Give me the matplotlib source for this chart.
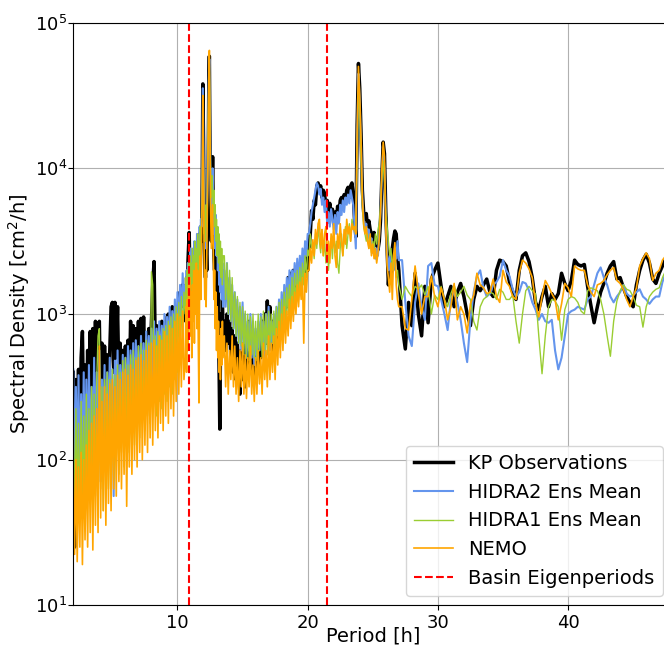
import numpy as np
import matplotlib
matplotlib.use('Agg')
import matplotlib.pyplot as plt

# period grid [h]: finer steps where the spectrum is busy
period_h = np.concatenate([
    np.arange(2.0, 10.55, 0.1),
    np.arange(10.6, 13.525, 0.05),
    np.arange(13.6, 20.05, 0.1),
    np.arange(20.1, 27.05, 0.1),
    np.arange(27.25, 47.6, 0.25),
])

# log10 spectral density [cm^2/h]
kp_obs_log = [
    2.60, 1.40, 2.55, 2.15, 2.62, 2.05, 2.70, 2.88, 2.25, 2.65,
    2.20, 2.75, 2.30, 2.88, 2.35, 2.90, 2.40, 2.95, 2.45, 2.92,
    2.95, 2.40, 2.80, 2.35, 2.78, 2.45, 2.72, 2.40, 2.75, 3.05,
    3.08, 2.60, 3.08, 2.70, 3.05, 2.55, 2.80, 2.45, 2.75, 2.50,
    2.78, 2.45, 2.82, 2.50, 2.95, 2.60, 2.92, 2.55, 2.90, 2.65,
    2.95, 2.60, 2.97, 2.70, 2.98, 2.65, 2.85, 2.60, 2.90, 2.70,
    2.95, 3.20, 3.36, 2.75, 2.92, 2.65, 2.88, 2.70, 2.95, 2.75,
    2.92, 2.70, 2.98, 3.00, 2.75, 2.95, 3.05, 2.85, 3.00, 2.90,
    3.05, 2.95, 3.15, 3.05, 3.20, 3.10,
    # 10.6 - 13.5
    3.15, 2.95, 3.25, 3.05, 3.35, 3.45, 3.56, 3.30, 3.40, 3.20,
    3.38, 3.15, 3.30, 3.05, 3.35, 3.10, 3.40, 3.20, 3.45, 3.25,
    3.50, 3.20, 3.55, 3.30, 3.60, 3.50, 3.90, 4.58, 4.20, 3.60,
    3.35, 3.25, 3.45, 3.30, 3.60, 3.90, 4.50, 4.77, 4.10, 3.60,
    3.50, 3.80, 4.08, 3.70, 3.40, 3.30, 3.45, 3.20, 3.30, 3.00,
    3.20, 2.90, 2.60, 2.21, 2.70, 3.00, 2.85, 3.10, 2.90,
    # 13.6 - 20.0
    2.95, 2.75, 3.00, 2.80, 2.95, 2.70, 2.90, 2.60, 2.85, 2.55,
    2.80, 2.60, 2.45, 2.75, 2.55, 2.80, 2.50, 2.85, 2.60, 2.95,
    2.70, 2.85, 2.60, 2.80, 2.55, 2.85, 2.65, 2.90, 2.70, 2.95,
    2.75, 3.00, 2.80, 3.09, 2.85, 3.05, 2.80, 2.95, 2.70, 2.90,
    2.75, 3.00, 2.85, 3.05, 2.90, 3.10, 2.95, 3.15, 3.05, 3.25,
    3.10, 3.28, 3.15, 3.30, 3.20, 3.28, 3.15, 3.30, 3.20, 3.35,
    3.25, 3.38, 3.28, 3.40, 3.30,
    # 20.1 - 27.0
    3.45, 3.55, 3.71, 3.65, 3.78, 3.75, 3.88, 3.90, 3.85, 3.88,
    3.80, 3.85, 3.83, 3.72, 3.78, 3.70, 3.76, 3.67, 3.72, 3.62,
    3.70, 3.64, 3.74, 3.68, 3.78, 3.80, 3.72, 3.82, 3.78, 3.85,
    3.87, 3.80, 3.88, 3.90, 3.82, 3.65, 3.53, 4.30, 4.72, 4.55,
    4.24, 3.85, 3.70, 3.65, 3.69, 3.60, 3.64, 3.58, 3.55, 3.50,
    3.56, 3.47, 3.52, 3.44, 3.50, 3.65, 3.95, 4.18, 4.10, 3.70,
    3.44, 3.20, 3.35, 3.28, 3.45, 3.52, 3.57, 3.55, 3.40, 3.30,
    # 27.25 - 47.5
    2.92, 2.76, 3.08, 2.92, 3.28, 3.00, 2.85, 3.19,
    2.94, 3.24, 3.30, 3.35, 3.19, 3.05, 3.12, 3.19,
    3.05, 3.15, 3.21, 3.12, 3.00, 2.92, 3.10, 3.19,
    3.16, 3.20, 3.24, 3.15, 3.12, 3.30, 3.37, 3.36,
    3.33, 3.22, 3.15, 3.10, 3.30, 3.40, 3.42, 3.36,
    3.25, 3.08, 3.03, 3.12, 3.19, 3.05, 3.14, 3.10,
    3.14, 3.28, 3.21, 3.16, 3.23, 3.37, 3.34, 3.33,
    3.34, 3.19, 3.06, 2.94, 3.05, 3.15, 3.21, 3.28,
    3.33, 3.36, 3.24, 3.25, 3.18, 3.12, 3.08, 3.05,
    3.20, 3.30, 3.37, 3.41, 3.35, 3.24, 3.21, 3.28,
    3.33, 3.38,
]

hidra2_log = [
    2.62, 1.60, 2.50, 1.80, 2.58, 1.70, 2.45, 1.90, 2.60, 1.75,
    2.55, 1.85, 2.65, 1.80, 2.50, 2.00, 2.70, 1.90, 2.60, 2.05,
    2.75, 1.85, 2.55, 2.10, 2.65, 1.95, 2.60, 2.15, 2.70, 2.05,
    2.62, 1.75, 2.68, 2.20, 2.75, 2.10, 2.65, 2.25, 2.72, 2.15,
    2.70, 2.30, 2.78, 2.20, 2.75, 2.35, 2.80, 2.25, 2.82, 2.40,
    2.78, 2.35, 2.85, 2.45, 2.80, 2.40, 2.88, 2.50, 2.85, 2.45,
    2.90, 2.55, 2.95, 2.50, 2.90, 2.60, 2.95, 2.55, 2.92, 2.65,
    3.00, 2.60, 2.98, 2.70, 3.05, 2.65, 3.02, 2.75, 3.10, 2.80,
    3.15, 2.85, 3.20, 2.95, 3.28, 3.05,
    # 10.6 - 13.5
    3.20, 3.00, 3.30, 3.10, 3.35, 3.15, 3.40, 3.20, 3.45, 3.25,
    3.40, 3.15, 3.45, 3.20, 3.50, 3.25, 3.45, 3.30, 3.55, 3.30,
    3.50, 3.35, 3.60, 3.40, 3.65, 3.60, 3.95, 4.55, 4.15, 3.70,
    3.50, 3.60, 3.45, 3.65, 3.85, 4.20, 4.60, 4.75, 4.20, 3.80,
    3.65, 3.85, 4.00, 3.75, 3.55, 3.65, 3.45, 3.68, 3.40, 3.55,
    3.30, 3.50, 3.20, 3.45, 3.15, 3.40, 3.10, 3.35, 3.05,
    # 13.6 - 20.0
    3.30, 3.05, 3.35, 3.00, 3.25, 2.95, 3.20, 2.90, 3.15, 2.85,
    3.10, 2.80, 3.05, 2.75, 3.08, 2.80, 3.00, 2.70, 2.95, 2.75,
    3.00, 2.70, 2.95, 2.65, 2.90, 2.70, 2.95, 2.75, 3.00, 2.80,
    2.95, 2.70, 3.00, 2.80, 3.05, 2.75, 2.95, 2.80, 3.00, 2.85,
    3.05, 2.90, 3.10, 2.90, 3.15, 2.95, 3.20, 3.00, 3.25, 3.05,
    3.30, 3.10, 3.30, 3.15, 3.35, 3.20, 3.38, 3.20, 3.40, 3.25,
    3.45, 3.30, 3.50, 3.40, 3.55,
    # 20.1 - 27.0
    3.55, 3.62, 3.70, 3.75, 3.80, 3.85, 3.90, 3.88, 3.82, 3.86,
    3.75, 3.80, 3.70, 3.78, 3.62, 3.70, 3.60, 3.72, 3.65, 3.58,
    3.68, 3.55, 3.70, 3.62, 3.75, 3.68, 3.78, 3.70, 3.80, 3.75,
    3.82, 3.76, 3.85, 3.80, 3.75, 3.60, 3.45, 4.20, 4.65, 4.45,
    4.15, 3.80, 3.65, 3.58, 3.62, 3.52, 3.58, 3.48, 3.52, 3.42,
    3.48, 3.38, 3.45, 3.40, 3.55, 3.70, 3.95, 4.12, 4.00, 3.65,
    3.40, 3.30, 3.40, 3.25, 3.35, 3.30, 3.45, 3.38, 3.50, 3.37,
    # 27.25 - 47.5
    3.37, 3.08, 2.85, 2.78, 3.08, 3.21, 3.05, 2.96,
    3.33, 3.35, 3.20, 3.19, 3.10, 3.00, 2.89, 3.10,
    3.16, 3.08, 2.96, 2.80, 2.67, 2.96, 3.15, 3.26,
    3.30, 3.18, 3.12, 3.14, 3.20, 3.22, 3.26, 3.37,
    3.30, 3.26, 3.17, 3.12, 3.15, 3.22, 3.21, 3.16,
    3.08, 3.03, 2.96, 3.00, 2.95, 2.94, 2.96, 2.75,
    2.62, 2.70, 2.85, 3.00, 3.02, 3.03, 3.05, 3.04,
    3.03, 3.10, 3.12, 3.20, 3.28, 3.32, 3.25, 3.20,
    3.12, 3.08, 3.12, 3.15, 3.20, 3.14, 3.12, 3.13,
    3.15, 3.17, 3.12, 3.10, 3.07, 3.10, 3.12, 3.12,
    3.22, 3.28,
]

hidra1_log = [
    2.30, 1.55, 2.35, 1.70, 2.25, 1.60, 2.40, 1.75, 2.30, 1.65,
    2.45, 1.80, 2.35, 1.70, 2.50, 1.85, 2.45, 1.75, 2.55, 2.85,
    2.90, 1.80, 2.50, 1.65, 2.55, 1.90, 2.60, 1.80, 2.55, 1.95,
    2.62, 1.85, 2.58, 2.00, 2.65, 1.90, 2.60, 2.05, 2.68, 1.95,
    2.70, 2.10, 2.65, 2.05, 2.72, 2.15, 2.75, 2.10, 2.70, 2.20,
    2.78, 2.15, 2.80, 2.25, 2.75, 2.20, 2.82, 2.30, 2.80, 2.25,
    3.29, 3.20, 2.40, 2.85, 2.30, 2.88, 2.40, 2.85, 2.35, 2.90,
    2.45, 2.92, 2.40, 2.95, 2.50, 2.98, 2.45, 3.00, 2.55, 3.05,
    2.60, 3.08, 2.70, 3.12, 2.80, 3.15,
    # 10.6 - 13.5
    3.00, 3.25, 2.90, 3.30, 3.00, 3.35, 3.10, 3.40, 3.05, 3.35,
    3.10, 3.45, 3.15, 3.40, 3.10, 3.50, 3.20, 3.45, 3.15, 3.55,
    3.25, 3.50, 3.30, 3.60, 3.40, 3.70, 3.80, 4.30, 3.90, 3.55,
    3.70, 3.50, 3.75, 3.60, 3.90, 4.20, 4.55, 4.70, 4.30, 3.95,
    3.80, 3.95, 3.85, 3.70, 3.85, 3.60, 3.75, 3.50, 3.65, 3.40,
    3.60, 3.35, 3.55, 3.30, 3.50, 3.25, 3.45, 3.20, 3.40,
    # 13.6 - 20.0
    3.40, 3.10, 3.35, 3.00, 3.30, 2.95, 3.25, 2.90, 3.15, 2.85,
    3.12, 2.80, 3.08, 2.78, 3.05, 2.72, 3.02, 2.70, 3.00, 2.68,
    2.98, 2.72, 3.00, 2.70, 2.95, 2.68, 3.00, 2.75, 2.98, 2.70,
    3.02, 2.75, 3.00, 2.72, 3.02, 2.78, 3.00, 2.80, 3.02, 2.75,
    3.05, 2.85, 3.08, 2.85, 3.10, 2.90, 3.15, 2.95, 3.18, 3.00,
    3.20, 3.00, 3.25, 3.05, 3.28, 3.05, 3.30, 3.10, 3.32, 3.15,
    3.35, 3.20, 3.40, 3.25, 3.44,
    # 20.1 - 27.0
    3.40, 3.55, 3.45, 3.49, 3.38, 3.55, 3.45, 3.60, 3.50, 3.42,
    3.58, 3.40, 3.50, 3.35, 3.48, 3.30, 3.45, 3.52, 3.38, 3.55,
    3.42, 3.50, 3.35, 3.28, 3.45, 3.55, 3.40, 3.50, 3.60, 3.45,
    3.55, 3.62, 3.50, 3.65, 3.60, 3.58, 3.55, 4.10, 4.55, 4.40,
    4.05, 3.75, 3.60, 3.55, 3.50, 3.55, 3.45, 3.50, 3.42, 3.50,
    3.45, 3.55, 3.48, 3.58, 3.62, 3.75, 3.95, 4.05, 3.90, 3.70,
    3.60, 3.50, 3.40, 3.45, 3.30, 3.42, 3.35, 3.25, 3.30, 3.20,
    # 27.25 - 47.5
    3.10, 3.19, 3.15, 3.12, 3.19, 3.17, 3.20, 3.13,
    3.19, 3.00, 3.13, 3.10, 3.19, 3.10, 3.05, 3.14,
    3.20, 3.12, 3.15, 3.19, 3.13, 3.10, 2.95, 2.89,
    3.05, 3.10, 3.12, 3.15, 3.14, 3.10, 3.17, 3.15,
    3.10, 3.10, 3.13, 2.95, 2.80, 3.00, 3.16, 3.19,
    3.16, 3.14, 2.85, 2.59, 2.85, 3.05, 3.10, 3.09,
    3.05, 2.82, 3.03, 3.10, 3.12, 3.11, 3.08, 3.02,
    3.00, 3.16, 3.18, 3.17, 3.16, 3.10, 3.00, 2.85,
    2.71, 2.95, 3.09, 3.16, 3.20, 3.17, 3.16, 3.12,
    3.06, 3.05, 2.91, 3.05, 3.12, 3.15, 3.17, 3.18,
    3.25, 3.30,
]

nemo_log = [
    1.90, 1.35, 2.00, 1.30, 1.95, 1.40, 2.05, 1.28, 2.00, 1.45,
    2.10, 1.40, 2.20, 1.50, 2.25, 1.38, 2.30, 1.55, 2.35, 1.50,
    2.78, 1.60, 2.40, 1.65, 2.50, 1.55, 2.45, 1.70, 2.52, 1.65,
    2.55, 1.80, 2.50, 1.75, 2.58, 1.85, 2.55, 1.80, 2.60, 1.90,
    2.62, 1.68, 2.58, 1.95, 2.65, 1.90, 2.62, 2.00, 2.68, 1.95,
    2.70, 2.05, 2.72, 2.00, 2.68, 2.10, 2.75, 2.05, 2.78, 2.15,
    2.80, 2.10, 2.82, 2.20, 2.78, 2.15, 2.85, 2.25, 2.82, 2.20,
    2.88, 2.30, 2.85, 2.25, 2.92, 2.35, 2.90, 2.30, 2.95, 2.40,
    3.00, 2.45, 2.98, 2.50, 3.02, 2.55,
    # 10.6 - 13.5
    2.70, 3.05, 2.60, 3.10, 2.75, 3.20, 2.90, 3.25, 2.85, 3.15,
    2.70, 3.20, 2.95, 3.30, 2.80, 3.25, 3.00, 3.35, 2.90, 3.30,
    2.80, 2.39, 3.20, 3.40, 3.10, 3.50, 3.80, 4.50, 3.90, 3.40,
    3.10, 3.30, 3.05, 3.40, 3.70, 4.10, 4.60, 4.81, 4.20, 3.70,
    3.45, 3.60, 3.75, 3.40, 3.10, 3.30, 2.90, 3.15, 2.75, 3.05,
    2.70, 2.95, 2.60, 2.85, 2.55, 2.90, 2.65, 2.95, 2.70,
    # 13.6 - 20.0
    2.85, 2.50, 2.80, 2.45, 2.75, 2.55, 2.85, 2.50, 2.78, 2.45,
    2.70, 2.40, 2.75, 2.50, 2.80, 2.45, 2.72, 2.42, 2.70, 2.50,
    2.78, 2.45, 2.65, 2.40, 2.70, 2.45, 2.75, 2.52, 2.70, 2.45,
    2.80, 2.55, 2.75, 2.50, 2.85, 2.55, 2.80, 2.60, 2.85, 2.55,
    2.90, 2.65, 2.95, 2.70, 3.00, 2.75, 3.05, 2.80, 3.02, 2.85,
    3.10, 2.90, 3.12, 2.95, 3.15, 3.00, 3.20, 3.05, 3.22, 3.10,
    3.25, 2.80, 3.28, 3.15, 3.30,
    # 20.1 - 27.0
    3.30, 3.45, 3.35, 3.51, 3.40, 3.58, 3.48, 3.62, 3.65, 3.45,
    3.58, 3.40, 3.55, 3.60, 3.38, 3.50, 3.35, 3.55, 3.45, 3.62,
    3.40, 3.32, 3.55, 3.45, 3.62, 3.50, 3.40, 3.58, 3.48, 3.65,
    3.55, 3.60, 3.50, 3.62, 3.58, 3.60, 3.55, 4.25, 4.70, 4.50,
    4.20, 3.80, 3.62, 3.55, 3.60, 3.50, 3.45, 3.55, 3.40, 3.48,
    3.38, 3.45, 3.35, 3.42, 3.52, 3.70, 4.00, 4.18, 4.08, 3.60,
    3.33, 3.25, 3.15, 3.35, 3.10, 3.40, 3.49, 3.20, 3.10, 3.05,
    # 27.25 - 47.5
    3.05, 2.90, 2.89, 3.10, 3.33, 3.15, 3.00, 3.12,
    3.12, 3.26, 3.12, 3.05, 3.18, 3.10, 2.96, 3.05,
    3.21, 2.96, 3.05, 3.00, 2.87, 3.07, 3.13, 3.28,
    3.20, 3.18, 3.14, 3.15, 3.24, 3.12, 3.08, 3.30,
    3.22, 3.19, 3.12, 3.10, 3.28, 3.37, 3.35, 3.31,
    3.25, 3.07, 2.98, 3.12, 3.23, 3.19, 3.14, 3.10,
    2.96, 3.07, 3.21, 3.18, 3.12, 3.33, 3.31, 3.30,
    3.30, 3.20, 3.15, 3.12, 3.20, 3.21, 3.23, 3.27,
    3.30, 3.32, 3.23, 3.21, 3.17, 3.10, 3.05, 3.12,
    3.18, 3.33, 3.38, 3.42, 3.38, 3.23, 3.28, 3.30,
    3.37, 3.40,
]

eigenperiods_h = [10.9, 21.5]

series = [
    ('KP Observations', kp_obs_log, 'black', 2.5),
    ('HIDRA2 Ens Mean', hidra2_log, 'cornflowerblue', 1.5),
    ('HIDRA1 Ens Mean', hidra1_log, 'yellowgreen', 1.0),
    ('NEMO', nemo_log, 'orange', 1.2),
]

plt.rcParams['font.size'] = 14

fig = plt.figure(figsize=(6.64, 6.49), dpi=100)
ax = fig.add_axes([0.1104, 0.0673, 0.902, 0.8977])

for label, vals, color, lw in series:
    assert len(vals) == len(period_h), (label, len(vals), len(period_h))
    ax.plot(period_h, 10 ** np.array(vals), color=color, lw=lw, label=label)

for i, p in enumerate(eigenperiods_h):
    ax.axvline(p, color='red', ls='--', lw=1.5,
               label='Basin Eigenperiods' if i == 0 else None)

ax.set_yscale('log')
ax.set_xlim(2, 48)
ax.set_ylim(10, 1e5)
ax.minorticks_off()
ax.tick_params(axis='both', labelsize=13)
ax.tick_params(axis='x', pad=2.5)
ax.tick_params(axis='y', pad=1)
ax.grid(True)
ax.set_xlabel('Period [h]')
ax.set_ylabel('Spectral Density [cm$^2$/h]')
ax.xaxis.set_label_coords(0.5, -0.036)
ax.yaxis.set_label_coords(-0.069, 0.5)
ax.legend(loc='lower right')

fig.savefig('out.png', dpi=100)
